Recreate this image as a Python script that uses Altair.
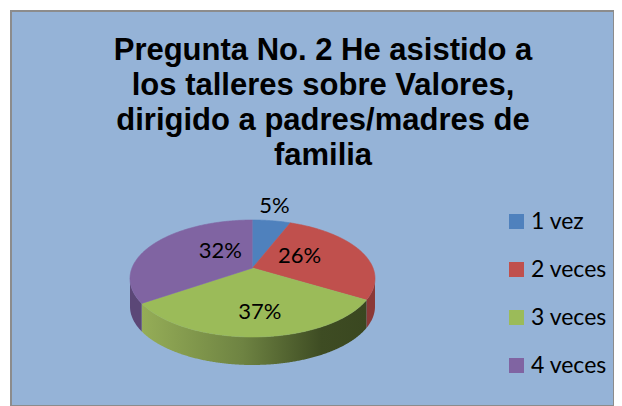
import math
import numpy as np
import pandas as pd
import altair as alt

# ---- data ----
categories = ["1 vez", "2 veces", "3 veces", "4 veces"]
percent = [5, 26, 37, 32]
top_colors = ["#4F81BD", "#C0504D", "#9BBB59", "#8064A2"]
wall_colors = ["#3A6090", "#8B3937", None, "#5B4777"]
title_lines = ["Pregunta No. 2 He asistido a", "los talleres sobre Valores,",
               "dirigido a padres/madres de", "familia"]

# ---- layout parameters (pixels of the plot area) ----
VIEW_W, VIEW_H = 603, 395
PX = 122.5                 # pixels per unit radius (horizontal)
CX, CY = 241.5, 267.5      # centre of the pie ellipse inside the view
K = 58.5 / PX              # vertical squash of the ellipse
DEPTH = 28 / PX            # thickness of the 3D pie
APEX = 10.5 / PX           # apex is a bit above the ellipse centre (perspective)
LABEL_CX = 6 / PX
LABEL_CY = 6 / PX

x_dom = [-CX / PX, (VIEW_W - CX) / PX]
y_dom = [-(VIEW_H - CY) / PX, CY / PX]

total = float(sum(percent))
starts, ends = [], []
acc = 0.0
for p in percent:
    starts.append(acc / total * 360.0)
    acc += p
    ends.append(acc / total * 360.0)

top_rows, wall_rows, label_rows = [], [], []
for i, cat in enumerate(categories):
    s, e = starts[i], ends[i]
    top_rows.append({"cat": cat, "o": 0, "x": 0.0, "y": APEX})
    n = max(2, int(math.ceil(e - s)) * 2)
    for j, th in enumerate(np.linspace(s, e, n + 1)):
        r = math.radians(th)
        top_rows.append({"cat": cat, "o": j + 1, "x": math.sin(r), "y": K * math.cos(r)})
    ws, we = max(s, 90.0), min(e, 270.0)
    if we > ws:
        m = max(2, int(math.ceil(we - ws)) * 2)
        for th in np.linspace(ws, we, m + 1):
            r = math.radians(th)
            wall_rows.append({"cat": cat, "x": math.sin(r), "y": K * math.cos(r),
                              "y2": K * math.cos(r) - DEPTH})
    mid = math.radians((s + e) / 2)
    if percent[i] < 10:
        rx, ry, cx0 = 1.15, 1.15, 0.0
    else:
        rx, ry, cx0 = 0.37, 0.68, LABEL_CX
    label_rows.append({"cat": cat, "lab": f"{percent[i]}%",
                       "x": cx0 + rx * math.sin(mid),
                       "y": LABEL_CY + ry * K * math.cos(mid)})

top_df = pd.DataFrame(top_rows)
wall_df = pd.DataFrame(wall_rows)
label_df = pd.DataFrame(label_rows)
title_df = pd.DataFrame({"t": ["\n".join(title_lines)]})

sx = alt.Scale(domain=x_dom, nice=False, zero=False)
sy = alt.Scale(domain=y_dom, nice=False, zero=False)
color_scale = alt.Scale(domain=categories, range=top_colors)

layers = []
for i, cat in enumerate(categories):
    if cat not in set(wall_df["cat"]):
        continue
    if wall_colors[i] is None:
        fill = alt.Gradient(gradient="linear",
                            stops=[alt.GradientStop(color="#95AD57", offset=0),
                                   alt.GradientStop(color="#6E8342", offset=0.45),
                                   alt.GradientStop(color="#3E4C23", offset=0.8),
                                   alt.GradientStop(color="#3A4720", offset=1)],
                            x1=0, x2=1, y1=0, y2=0)
    else:
        fill = wall_colors[i]
    layers.append(
        alt.Chart(wall_df).transform_filter(alt.datum.cat == cat)
        .mark_area(color=fill, strokeWidth=0)
        .encode(x=alt.X("x:Q", scale=sx, axis=None),
                y=alt.Y("y:Q", scale=sy, axis=None),
                y2="y2:Q")
    )

top = alt.Chart(top_df).mark_line(filled=True, strokeWidth=0.6).encode(
    x=alt.X("x:Q", scale=sx, axis=None),
    y=alt.Y("y:Q", scale=sy, axis=None),
    color=alt.Color("cat:N", scale=color_scale,
                    legend=alt.Legend(title=None, orient="none", legendX=494, legendY=199,
                                      symbolType="square", symbolSize=225,
                                      symbolStrokeWidth=0, labelFont="Lato",
                                      labelFontSize=23, labelColor="black",
                                      rowPadding=24, labelOffset=3, padding=0)),
    stroke=alt.Stroke("cat:N", scale=color_scale, legend=None),
    order="o:Q",
)
layers.append(top)

labels = alt.Chart(label_df).mark_text(font="Lato", fontSize=22, color="black",
                                       align="center", baseline="middle").encode(
    x=alt.X("x:Q", scale=sx, axis=None),
    y=alt.Y("y:Q", scale=sy, axis=None),
    text="lab:N",
)
layers.append(labels)

title = alt.Chart(title_df).mark_text(font="Liberation Sans", fontSize=31, fontWeight="bold",
                                      color="black", align="center", baseline="alphabetic",
                                      lineBreak="\n", lineHeight=35).encode(
    x=alt.value(312), y=alt.value(49), text="t:N")
layers.append(title)

chart = alt.layer(*layers).properties(
    width=VIEW_W, height=VIEW_H, background="white",
    padding={"left": 3, "top": 3, "right": 0, "bottom": 0},
).configure_view(fill="#95B3D7", stroke="#8C8C8C", strokeWidth=2)

chart.save("out.html", embed_options={"renderer": "svg", "actions": False})
